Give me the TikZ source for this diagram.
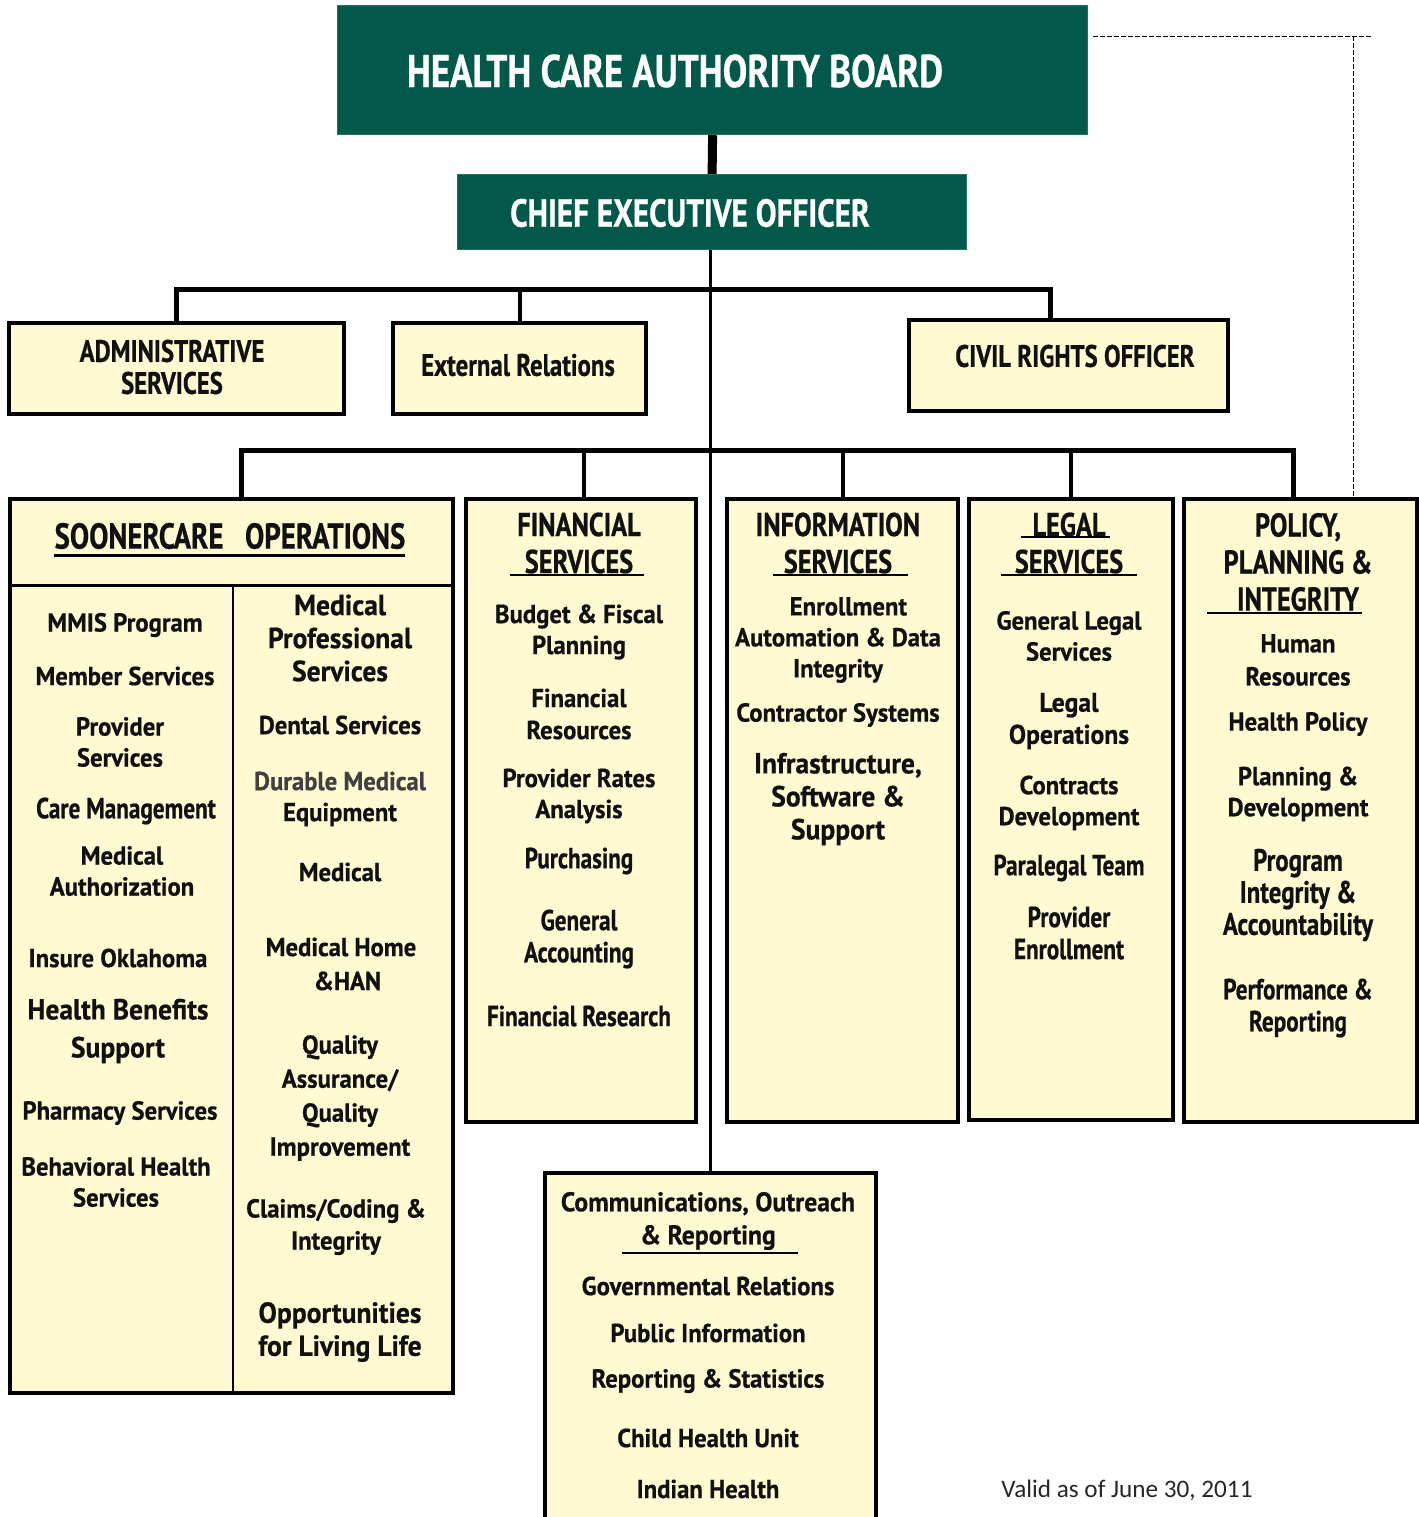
\documentclass[tikz,border=0pt]{standalone}
\usepackage{fontspec}
\setmainfont{PT Sans}
\newfontfamily\bodyf{PT Sans}[FakeStretch=0.95, BoldFeatures={FakeBold=0.6}]
\newfontfamily\condf{PT Sans}[FakeStretch=0.8, BoldFeatures={FakeBold=0.6}]
\newfontfamily\validf{Carlito}
\definecolor{hcagreen}{HTML}{02594A}
\definecolor{boxfill}{HTML}{FFFAD2}
\definecolor{ink}{HTML}{111111}
\tikzset{
  box/.style={draw=black, line width=2pt, fill=boxfill, anchor=north west, inner sep=0pt},
  greenbox/.style={draw=hcagreen!85!white, line width=0.6pt, fill=hcagreen, anchor=north west, inner sep=0pt},
  item/.style={align=center, inner sep=0pt, text=ink, font=\bodyf\bfseries\fontsize{13}{15.5}\selectfont},
  bigitem/.style={align=center, inner sep=0pt, text=ink, font=\bodyf\bfseries\fontsize{14.5}{16.5}\selectfont},
  conditem/.style={align=center, inner sep=0pt, text=ink, font=\condf\bfseries\fontsize{14.5}{16}\selectfont},
  head/.style={align=center, inner sep=0pt, text=ink, font=\condf\bfseries\fontsize{16.5}{18.5}\selectfont},
  ulin/.style={line width=1pt, black},
  bus/.style={line width=2.5pt, black},
  drop/.style={line width=2pt, black},
}
\begin{document}
\begin{tikzpicture}[x=0.5pt,y=-0.5pt]
\useasboundingbox (0,0) rectangle (1419,1517);
\clip (0,0) rectangle (1419,1517);
\fill[white] (0,0) rectangle (1419,1517);

% ---------- top boxes ----------
\node[greenbox, minimum width=375pt, minimum height=64.5pt] (board) at (337,5) {};
\node[greenbox, minimum width=254.5pt, minimum height=37.5pt] (ceo) at (457,174) {};
\node[text=white, inner sep=0pt, font=\condf\bfseries\fontsize{23}{26}\selectfont] (tboard) at (675,71) {HEALTH CARE AUTHORITY BOARD};
\node[text=white, inner sep=0pt, font=\condf\bfseries\fontsize{19.5}{21}\selectfont] (tceo) at (690,213) {CHIEF EXECUTIVE OFFICER};

\node[box, minimum width=167.5pt, minimum height=45.5pt] (admin) at (7,321) {};
\node[box, minimum width=126.5pt, minimum height=45.5pt] (ext) at (391,321) {};
\node[box, minimum width=159.5pt, minimum height=45.5pt] (civil) at (907,318) {};
\node[head, font=\condf\bfseries\fontsize{15.5}{16}\selectfont] (tadmin) at (172,367) {ADMINISTRATIVE\\SERVICES};
\node[head, font=\condf\bfseries\fontsize{15.5}{16}\selectfont] (text) at (518,365) {External Relations};
\node[head, font=\condf\bfseries\fontsize{15.5}{16}\selectfont] (tcivil) at (1075,356) {CIVIL RIGHTS OFFICER};

% ---------- department boxes ----------
\node[box, minimum width=221.5pt, minimum height=447pt] (sooner) at (8,497) {};
\node[box, minimum width=115pt, minimum height=311.5pt] (fin) at (464,497) {};
\node[box, minimum width=115.5pt, minimum height=311.5pt] (info) at (725,497) {};
\node[box, minimum width=102pt, minimum height=310.5pt] (legal) at (967,497) {};
\node[box, minimum width=116.5pt, minimum height=311.5pt] (policy) at (1182,497) {};
\node[box, minimum width=165.5pt, minimum height=190pt] (comm) at (543,1171) {};

% soonercare inner dividers
\draw[line width=1.5pt] (8,585) -- (451,585);
\draw[line width=1pt] (233,585) -- (233,1391);

% ---------- connectors ----------
\draw[line width=4.5pt] (board.south) -- (ceo.north);
\draw[line width=1.5pt] (ceo.south -| comm.north) -- (comm.north);
\coordinate (b1l) at (173,289);
\coordinate (b1r) at (1050,289);
\draw[bus] (admin.north) |- (b1r) -- (b1r |- civil.north);
\draw[drop] (ext.north) -- (ext.north |- b1l);
\coordinate (b2l) at (241,450);
\coordinate (b2r) at (1293,450);
\draw[bus] (b2l |- sooner.north) -- (b2l) -- (b2r) -- (b2r |- policy.north);
\draw[drop] (584,450) -- (584,497);
\draw[drop] (info.north) -- (info.north |- b2l);
\draw[drop] (legal.north) -- (legal.north |- b2l);
\coordinate (d1) at (1093,36);
\coordinate (d2) at (1373,36);
\coordinate (dc) at (1353,36);
\draw[line width=0.5pt, dash pattern=on 2.5pt off 1pt] (d1) -- (d2);
\draw[line width=0.5pt, dash pattern=on 2.5pt off 1pt] (dc) -- (dc |- policy.north);

% ---------- headers ----------
\node[head, font=\condf\bfseries\fontsize{18}{20}\selectfont] (hsooner) at (230,536) {SOONERCARE\hspace{0.6em}OPERATIONS};
\draw[line width=1.5pt] (54,555) -- (405,555);
\node[head] (hfin) at (579,543) {FINANCIAL\\SERVICES};
\draw[ulin] (510,575) -- (644,575);
\node[head] (hinfo) at (838,543) {INFORMATION\\SERVICES};
\draw[ulin] (773,575) -- (908,575);
\node[head] (hlegal) at (1069,543) {LEGAL\\SERVICES};
\draw[ulin] (1021,537) -- (1110,537);
\draw[ulin] (1001,575) -- (1137,575);
\node[head] (hpolicy) at (1298,562) {POLICY,\\PLANNING \&\\INTEGRITY};
\draw[ulin] (1207,613) -- (1362,613);

% ---------- soonercare left ----------
\node[item] (s1) at (125,625) {MMIS Program};
\node[item] (s2) at (125,676) {Member Services};
\node[item] (s3) at (120,742) {Provider\\Services};
\node[conditem] (s4) at (126,811) {Care Management};
\node[item] (s5) at (122,871) {Medical\\Authorization};
\node[item] (s6) at (118,958) {Insure Oklahoma};
\node[bigitem, font=\bodyf\bfseries\fontsize{14.5}{19}\selectfont] (s7) at (118,1031) {Health Benefits\\Support};
\node[item] (s8) at (120,1113) {Pharmacy Services};
\node[item] (s9) at (116,1182) {Behavioral Health\\Services};

% ---------- soonercare right ----------
\node[bigitem] (r1) at (340,638) {Medical\\Professional\\Services};
\node[item] (r2) at (340,725) {Dental Services};
\node[item] (r3) at (340,799) {\textcolor{black!75}{Durable Medical}\\Equipment};
\node[item] (r4) at (340,872) {Medical};
\node[item, font=\bodyf\bfseries\fontsize{13}{17}\selectfont] (r5) at (341,964) {Medical Home\\\hspace*{0.5em}\&HAN};
\node[item, font=\bodyf\bfseries\fontsize{13}{17}\selectfont] (r6) at (340,1098) {Quality\\Assurance/\\Quality\\Improvement};
\node[item, font=\bodyf\bfseries\fontsize{13}{16}\selectfont] (r7) at (336,1227) {Claims/Coding \&\\Integrity};
\node[bigitem] (r8) at (340,1332) {Opportunities\\for Living Life};

% ---------- financial ----------
\node[item] (f1) at (579,632) {Budget \& Fiscal\\Planning};
\node[item, font=\bodyf\bfseries\fontsize{13}{16}\selectfont] (f2) at (579,714) {Financial\\Resources};
\node[item] (f3) at (579,796) {Provider Rates\\Analysis};
\node[conditem] (f4) at (579,861) {Purchasing};
\node[conditem] (f5) at (579,939) {General\\Accounting};
\node[conditem] (f6) at (579,1016) {Financial Research};

% ---------- information ----------
\node[item] (i1) at (838,640) {\hspace*{0.8em}Enrollment\\Automation \& Data\\Integrity};
\node[item] (i2) at (838,715) {Contractor Systems};
\node[bigitem] (i3) at (838,799) {Infrastructure,\\Software \&\\Support};

% ---------- legal ----------
\node[item] (l1) at (1069,636) {General Legal\\Services};
\node[item, font=\bodyf\bfseries\fontsize{13.5}{16}\selectfont] (l2) at (1069,721) {Legal\\Operations};
\node[item] (l3) at (1069,803) {Contracts\\Development};
\node[conditem] (l4) at (1069,868) {Paralegal Team};
\node[conditem] (l5) at (1069,933) {Provider\\Enrollment};

% ---------- policy ----------
\node[item, font=\bodyf\bfseries\fontsize{13}{16.5}\selectfont] (p1) at (1298,660) {Human\\Resources};
\node[item] (p2) at (1298,724) {Health Policy};
\node[item] (p3) at (1298,794) {Planning \&\\Development};
\node[conditem, font=\condf\bfseries\fontsize{15.5}{16}\selectfont] (p4) at (1298,895) {Program\\Integrity \&\\Accountability};
\node[conditem] (p5) at (1298,1008) {Performance \&\\Reporting};

% ---------- communications ----------
\node[item, font=\bodyf\bfseries\fontsize{13.5}{16.5}\selectfont] (c0) at (708,1221) {Communications, Outreach\\\& Reporting};
\draw[ulin] (622,1253) -- (798,1253);
\node[item] (c1) at (708,1286) {Governmental Relations};
\node[item] (c2) at (708,1333) {Public Information};
\node[item] (c3) at (708,1381) {Reporting \& Statistics};
\node[item] (c4) at (708,1438) {Child Health Unit};
\node[item] (c5) at (708,1489) {Indian Health};

% ---------- note ----------
\node[inner sep=0pt, text=black!85, font=\validf\fontsize{12.6}{15}\selectfont] (valid) at (1127,1490) {Valid as of June 30, 2011};
\end{tikzpicture}
\end{document}
